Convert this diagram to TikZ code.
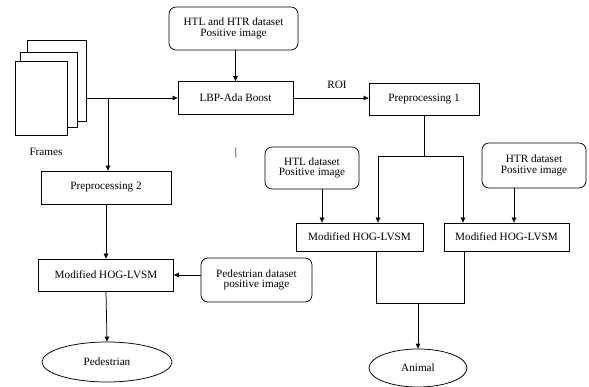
\documentclass[tikz,border=0pt]{standalone}
\usepackage{fontspec}
\setmainfont{Liberation Serif}
\usepackage{tikz}
\usetikzlibrary{positioning, arrows.meta, shapes.geometric}

\begin{document}
\begin{tikzpicture}[
    x=1pt, y=-1pt,
    every node/.style={font=\fontsize{11.2}{12.5}\selectfont},
    box/.style={draw, line width=0.75pt, align=center, inner sep=1pt},
    dbox/.style={draw, line width=0.75pt, rounded corners=7pt, align=center, inner sep=1pt},
    frm/.style={draw, line width=0.75pt, fill=white},
    oval/.style={draw, line width=0.75pt, ellipse, inner sep=0pt},
    arr/.style={-{Triangle[length=5pt, width=4.5pt]}, line width=0.75pt},
    ln/.style={line width=0.75pt},
  ]
    \useasboundingbox (0,0) rectangle (589,387);

    \node[frm, minimum width=59pt, minimum height=81pt] (framesC) at (56.5,80.5) {};
    \node[frm, minimum width=57pt, minimum height=75pt] (framesB) at (48.5,89.5) {};
    \node[frm, minimum width=52pt, minimum height=74pt] (framesA) at (41,98) {};
    \node (frames) at (46,152) {Frames};

    \node[dbox, minimum width=129pt, minimum height=43pt] (htlhtr) at (233.5,28.5) {HTL and HTR dataset\\[-2pt]Positive image};
    \node[box, minimum width=115pt, minimum height=33pt] (lbp) at (235.5,98) {LBP-Ada Boost};
    \node[box, minimum width=110pt, minimum height=32pt] (pre1) at (424,99) {Preprocessing 1};
    \node (roi) at (337,85) {ROI};
    \node (mark) at (236,153) {|};

    \node[dbox, minimum width=94pt, minimum height=42pt] (htl) at (312,168) {HTL dataset\\[-2pt]Positive image};
    \node[dbox, minimum width=104pt, minimum height=45pt] (htr) at (534,165.5) {HTR dataset\\[-2pt]Positive image};
    \node[box, minimum width=127pt, minimum height=28pt] (hogl) at (359.5,237) {Modified HOG-LVSM};
    \node[box, minimum width=125pt, minimum height=28pt] (hogr) at (506.5,237) {Modified HOG-LVSM};
    \node[oval, minimum width=98pt, minimum height=38pt] (animal) at (418,368) {Animal};

    \node[box, minimum width=130pt, minimum height=33pt] (pre2) at (106,187.5) {Preprocessing 2};
    \node[box, minimum width=135pt, minimum height=32pt] (hogp) at (106,275) {Modified HOG-LVSM};
    \node[dbox, minimum width=111pt, minimum height=44pt] (ped) at (256.5,280) {Pedestrian dataset\\[-2pt]positive image};
    \node[oval, minimum width=130pt, minimum height=40pt] (pedestrian) at (107,362) {Pedestrian};

    \coordinate (fsplit) at (108,98);
    \coordinate (al) at (378,156);
    \coordinate (ar) at (463,156);
    \coordinate (bl) at (376,303);
    \coordinate (br) at (464,303);
    \coordinate (bm) at (418,303);

    \draw[ln] (framesC.east |- fsplit) -- (fsplit);
    \draw[arr] (fsplit) -- (lbp.west);
    \draw[arr] (fsplit) -- (fsplit |- pre2.north);
    \draw[arr] (lbp.north |- htlhtr.south) -- (lbp.north);
    \draw[arr] (lbp.east) -- (lbp.east -| pre1.west);

    \draw[ln] (pre1.south) -- (pre1.south |- al);
    \draw[ln] (al) -- (ar);
    \draw[arr] (al) -- (al |- hogl.north);
    \draw[arr] (ar) -- (ar |- hogr.north);
    \draw[arr] ([xshift=10pt]htl.south) -- ([xshift=10pt]htl.south |- hogl.north);
    \draw[arr] ([xshift=-20pt]htr.south) -- ([xshift=-20pt]htr.south |- hogr.north);

    \draw[ln] (hogl.south -| bl) -- (bl) -- (br) -- (hogr.south -| br);
    \draw[arr] (bm) -- (animal.north);

    \draw[arr] (pre2.south) -- (pre2.south |- hogp.north);
    \draw[arr] (ped.west |- hogp.east) -- (hogp.east);
    \draw[arr] (hogp.south) -- (pedestrian.north);
  \end{tikzpicture}
\end{document}
